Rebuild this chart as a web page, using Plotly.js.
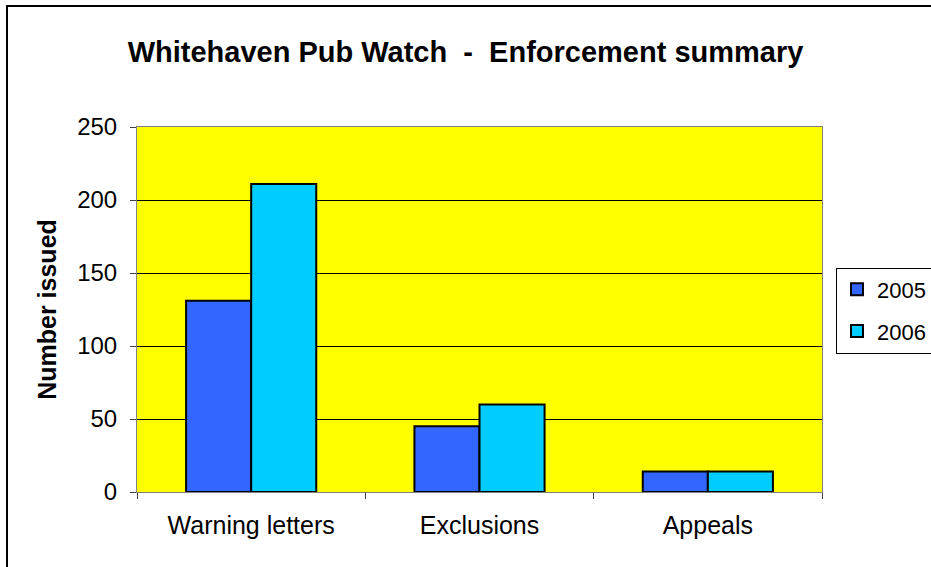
<!DOCTYPE html>
<html>
<head>
<meta charset="utf-8">
<script src="https://cdn.plot.ly/plotly-3.0.1.min.js"></script>
<style>
html,body{margin:0;padding:0;background:#fff;overflow:hidden;}
#chart{width:931px;height:567px;}
#frame{position:absolute;left:6px;top:5px;width:940px;height:580px;border-left:2px solid #000;border-top:2px solid #000;pointer-events:none;}
</style>
</head>
<body>
<div id="chart"></div>
<div id="frame"></div>
<script>
const categories = ["Warning letters", "Exclusions", "Appeals"];
const series2005 = [131, 45, 14];
const series2006 = [211, 60, 14];
const seriesNames = ["2005", "2006"];
const yTicks = [0, 50, 100, 150, 200, 250];

const font = "Liberation Sans, Arial, sans-serif";

const traces = [
  {type: "bar", name: seriesNames[0], x: categories, y: series2005, legendgroup: "a",
   marker: {color: "#3366FF", line: {color: "#000", width: 2}}},
  {type: "bar", name: seriesNames[1], x: categories, y: series2006, legendgroup: "b",
   marker: {color: "#00CCFF", line: {color: "#000", width: 2}}}
];

const layout = {
  width: 931, height: 567,
  paper_bgcolor: "#fff",
  plot_bgcolor: "#FFFF00",
  margin: {l: 137, r: 109, t: 127, b: 75, autoexpand: false},
  barmode: "group",
  bargap: 0.43,
  bargroupgap: 0,
  title: {text: "<b>Whitehaven Pub Watch  -  Enforcement summary</b>",
          font: {family: font, size: 29, color: "#000"},
          x: 0.5, xref: "container", y: 0.908, yref: "container", xanchor: "center", yanchor: "middle"},
  xaxis: {
    type: "category",
    tickson: "boundaries",
    ticks: "outside", ticklen: 6, tickcolor: "#404040",
    showline: true, linecolor: "#808080", linewidth: 1, mirror: true,
    showgrid: false,
    ticklabelstandoff: 11,
    tickfont: {family: font, size: 25, color: "#000"}
  },
  yaxis: {
    range: [0, 250],
    tickvals: yTicks,
    ticks: "outside", ticklen: 6, tickcolor: "#404040",
    showline: true, linecolor: "#808080", linewidth: 1, mirror: true,
    showgrid: true, gridcolor: "#000", gridwidth: 1,
    zeroline: false,
    ticklabelstandoff: 8,
    tickfont: {family: font, size: 24, color: "#000"},
    title: {text: "<b>Number issued</b>", font: {family: font, size: 25, color: "#000"}, standoff: 13}
  },
  legend: {
    x: 1.0204, y: 0.615, xanchor: "left", yanchor: "top",
    bordercolor: "#000", borderwidth: 1, bgcolor: "#fff",
    font: {family: font, size: 22, color: "#000"},
    traceorder: "grouped", tracegroupgap: 10, itemwidth: 30
  },
  showlegend: true
};

Plotly.newPlot("chart", traces, layout, {displayModeBar: false, staticPlot: true});
</script>
</body>
</html>
